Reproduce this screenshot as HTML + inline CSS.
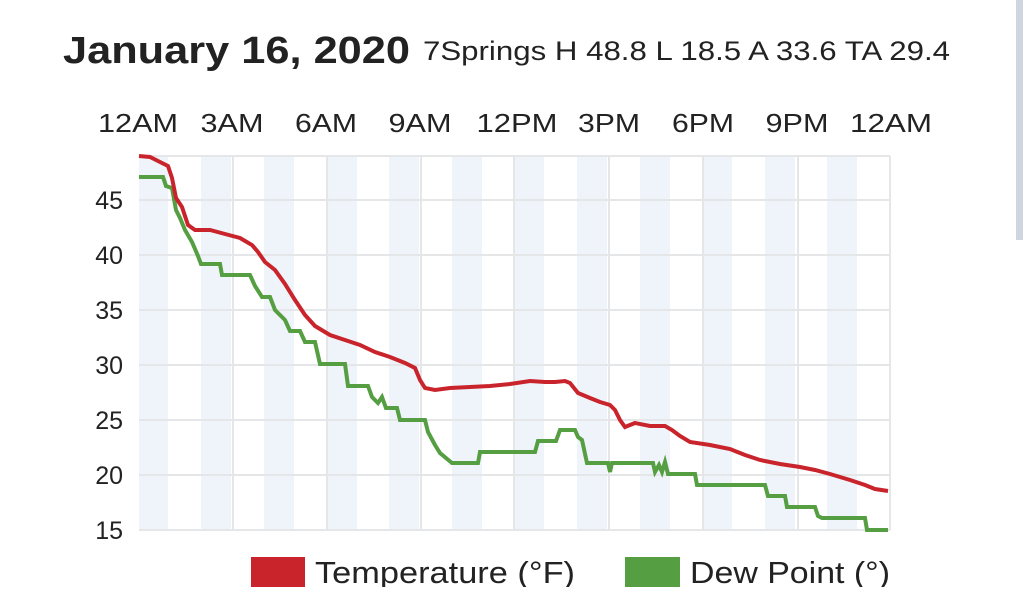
<!DOCTYPE html>
<html><head><meta charset="utf-8"><style>
body{margin:0;width:1024px;height:587px;overflow:hidden;background:#fff;font-family:"Liberation Sans",sans-serif;}
</style></head><body>
<svg width="1024" height="587" xmlns="http://www.w3.org/2000/svg" font-family="Liberation Sans, sans-serif">
<rect x="1016" y="0" width="7" height="240" fill="#cfd6dd"/>
<text x="63" y="63" font-size="38" font-weight="bold" fill="#222" textLength="347" lengthAdjust="spacingAndGlyphs">January 16, 2020</text>
<text x="423" y="60" font-size="27" fill="#222" textLength="527" lengthAdjust="spacingAndGlyphs">7Springs H 48.8 L 18.5 A 33.6 TA 29.4</text>
<g font-size="26" fill="#222" text-anchor="middle">
<text x="138" y="132" textLength="80" lengthAdjust="spacingAndGlyphs">12AM</text><text x="232" y="132" textLength="63" lengthAdjust="spacingAndGlyphs">3AM</text><text x="326" y="132" textLength="62" lengthAdjust="spacingAndGlyphs">6AM</text><text x="420" y="132" textLength="63" lengthAdjust="spacingAndGlyphs">9AM</text><text x="517" y="132" textLength="81" lengthAdjust="spacingAndGlyphs">12PM</text><text x="609" y="132" textLength="62" lengthAdjust="spacingAndGlyphs">3PM</text><text x="703" y="132" textLength="62" lengthAdjust="spacingAndGlyphs">6PM</text><text x="797" y="132" textLength="63" lengthAdjust="spacingAndGlyphs">9PM</text><text x="891" y="132" textLength="82" lengthAdjust="spacingAndGlyphs">12AM</text>
</g>
<g fill="#eef4fa">
<rect x="139" y="156" width="29" height="374"/><rect x="201" y="156" width="30" height="374"/><rect x="264" y="156" width="30" height="374"/><rect x="327" y="156" width="30" height="374"/><rect x="389" y="156" width="30" height="374"/><rect x="452" y="156" width="30" height="374"/><rect x="514" y="156" width="30" height="374"/><rect x="577" y="156" width="30" height="374"/><rect x="640" y="156" width="30" height="374"/><rect x="702" y="156" width="30" height="374"/><rect x="765" y="156" width="30" height="374"/><rect x="827" y="156" width="30" height="374"/>
</g>
<g stroke="#e4e6e8" stroke-width="2">
<line x1="139" y1="156" x2="890" y2="156"/><line x1="139" y1="200" x2="890" y2="200"/><line x1="139" y1="255" x2="890" y2="255"/><line x1="139" y1="310" x2="890" y2="310"/><line x1="139" y1="365" x2="890" y2="365"/><line x1="139" y1="420" x2="890" y2="420"/><line x1="139" y1="475" x2="890" y2="475"/><line x1="139" y1="530" x2="890" y2="530"/>
<line x1="233" y1="156" x2="233" y2="530"/><line x1="327" y1="156" x2="327" y2="530"/><line x1="421" y1="156" x2="421" y2="530"/><line x1="514" y1="156" x2="514" y2="530"/><line x1="609" y1="156" x2="609" y2="530"/><line x1="703" y1="156" x2="703" y2="530"/><line x1="798" y1="156" x2="798" y2="530"/><line x1="890" y1="156" x2="890" y2="530"/>
</g>
<g font-size="25" fill="#222" text-anchor="end">
<text x="123" y="209">45</text><text x="123" y="264">40</text><text x="123" y="319">35</text><text x="123" y="374">30</text><text x="123" y="429">25</text><text x="123" y="484">20</text><text x="123" y="539">15</text>
</g>
<polyline fill="none" stroke="#559e42" stroke-width="4" points="139,177 163,177 166,186 172,188 176,210 180,218 185,230 192,242 198,256 201,264 220,264 222,275 250,275 255,286 262,297 270,297 275,310 285,320 290,331 300,331 305,342 315,342 320,364 345,364 348,386 368,386 372,397 378,403 382,397 386,408 397,408 400,420 425,420 428,432 435,445 440,453 452,463 478,463 480,452 535,452 538,441 556,441 560,430 575,430 578,437 582,440 587,463 608,463 610,472 612,463 653,463 655,472 659,465 662,472 665,462 668,474 695,474 697,485 765,485 768,496 785,496 787,507 815,507 818,516 822,518 865,518 867,530 888,530"/>
<polyline fill="none" stroke="#c9242c" stroke-width="4" points="139,156 150,157 160,162 168,166 172,178 176,198 182,207 188,225 195,230 210,230 225,234 240,238 252,245 258,252 265,262 275,270 285,284 295,300 305,315 315,326 330,335 345,340 360,345 375,352 390,357 405,363 415,368 420,380 425,388 435,390 450,388 470,387 490,386 510,384 530,381 545,382 555,382 565,381 570,383 578,393 590,398 600,402 610,405 615,410 620,420 625,427 635,423 650,426 665,426 672,430 680,436 690,442 710,445 730,449 745,455 760,460 780,464 800,467 815,470 830,474 850,480 865,485 875,489 888,491"/>
<rect x="251" y="557" width="54" height="30" fill="#c9242c"/>
<text x="315" y="583" font-size="31" fill="#222" textLength="260" lengthAdjust="spacingAndGlyphs">Temperature (°F)</text>
<rect x="625" y="557" width="55" height="30" fill="#559e42"/>
<text x="690" y="583" font-size="31" fill="#222" textLength="200" lengthAdjust="spacingAndGlyphs">Dew Point (°)</text>
</svg>
</body></html>
